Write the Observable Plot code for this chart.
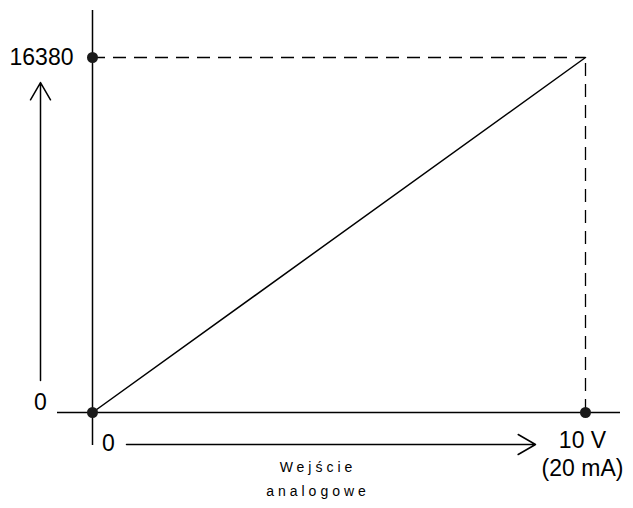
<!DOCTYPE html>
<html>
<head>
<meta charset="utf-8">
<script src="https://cdn.jsdelivr.net/npm/d3@7"></script>
<script src="https://cdn.jsdelivr.net/npm/@observablehq/plot@0.6"></script>
<style>
  html, body { margin: 0; padding: 0; background: #fff; }
</style>
</head>
<body>
<div id="chart"></div>
<script>
// Data
const inputRange = [0, 10];          // volts
const outputRange = [0, 16380];      // digital value
const transfer = [
  {x: 0, y: 0},
  {x: 10, y: 16380}
];
const keyPoints = [
  {x: 0, y: 16380},
  {x: 0, y: 0},
  {x: 10, y: 0}
];
const yLabels = ["16380", "0"];
const xLabels = ["0", "10 V", "(20 mA)"];
const axisTitle = ["Wejście", "analogowe"];

const fontSize = 23;
const fontFamily = "'Liberation Sans', Arial, sans-serif";

const chart = Plot.plot({
  width: 633,
  height: 508,
  marginLeft: 92,
  marginRight: 48,
  marginTop: 57,
  marginBottom: 96,
  style: {fontFamily, background: "#fff", color: "#000"},
  x: {domain: inputRange, axis: null},
  y: {domain: outputRange, axis: null},
  marks: [
    // axes
    Plot.ruleY([0], {stroke: "#000", strokeWidth: 1.5, insetLeft: -35, insetRight: -35}),
    Plot.ruleX([0], {stroke: "#000", strokeWidth: 1.5, insetTop: -47, insetBottom: -33}),
    // dashed guides
    Plot.ruleY([outputRange[1]], {x1: inputRange[0], x2: inputRange[1], stroke: "#000", strokeWidth: 1.3, strokeDasharray: "13,8"}),
    Plot.ruleX([inputRange[1]], {y1: outputRange[0], y2: outputRange[1], stroke: "#000", strokeWidth: 1.3, strokeDasharray: "13,8"}),
    // transfer line
    Plot.line(transfer, {x: "x", y: "y", stroke: "#000", strokeWidth: 1.5}),
    // dots
    Plot.dot(keyPoints, {x: "x", y: "y", r: 5.5, fill: "#1a1a1a", stroke: "none"}),
    // arrows
    Plot.arrow([{x1: 0, y1: 0, x2: 0, y2: 16380}], {
      x1: "x1", y1: "y1", x2: "x2", y2: "y2", dx: -52,
      insetStart: 32, insetEnd: 25, headLength: 20, headAngle: 60,
      stroke: "#000", strokeWidth: 1.5, bend: 0
    }),
    Plot.arrow([{x1: 0, y1: 0, x2: 10, y2: 0}], {
      x1: "x1", y1: "y1", x2: "x2", y2: "y2", dy: 32,
      insetStart: 34, insetEnd: 50, headLength: 20, headAngle: 60,
      stroke: "#000", strokeWidth: 1.5, bend: 0
    }),
    // y labels
    Plot.text([{x: 0, y: 16380, t: yLabels[0]}], {x: "x", y: "y", text: "t", dx: -51, dy: 0, fontSize, fontFamily, fill: "#000", textAnchor: "middle"}),
    Plot.text([{x: 0, y: 0, t: yLabels[1]}], {x: "x", y: "y", text: "t", dx: -52, dy: -10, fontSize, fontFamily, fill: "#000", textAnchor: "middle"}),
    // x labels
    Plot.text([{x: 0, y: 0, t: xLabels[0]}], {x: "x", y: "y", text: "t", dx: 16, dy: 31, fontSize, fontFamily, fill: "#000", textAnchor: "middle"}),
    Plot.text([{x: 10, y: 0, t: xLabels[1]}], {x: "x", y: "y", text: "t", dx: -3, dy: 28, fontSize, fontFamily, fill: "#000", textAnchor: "middle"}),
    Plot.text([{x: 10, y: 0, t: xLabels[2]}], {x: "x", y: "y", text: "t", dx: -3, dy: 56, fontSize, fontFamily, fill: "#000", textAnchor: "middle"}),
    // axis title
    Plot.text([axisTitle[0]], {frameAnchor: "bottom", text: d => d, dx: -21, dy: 59, fontSize: 14, fontFamily, fill: "#000", textAnchor: "middle"}),
    Plot.text([axisTitle[1]], {frameAnchor: "bottom", text: d => d, dx: -21, dy: 83, fontSize: 14, fontFamily, fill: "#000", textAnchor: "middle"})
  ]
});

// letter spacing for axis title
d3.select(chart).selectAll("text").filter(function () {
  return axisTitle.includes(this.textContent);
}).attr("letter-spacing", 4);

document.getElementById("chart").appendChild(chart);
</script>
</body>
</html>
